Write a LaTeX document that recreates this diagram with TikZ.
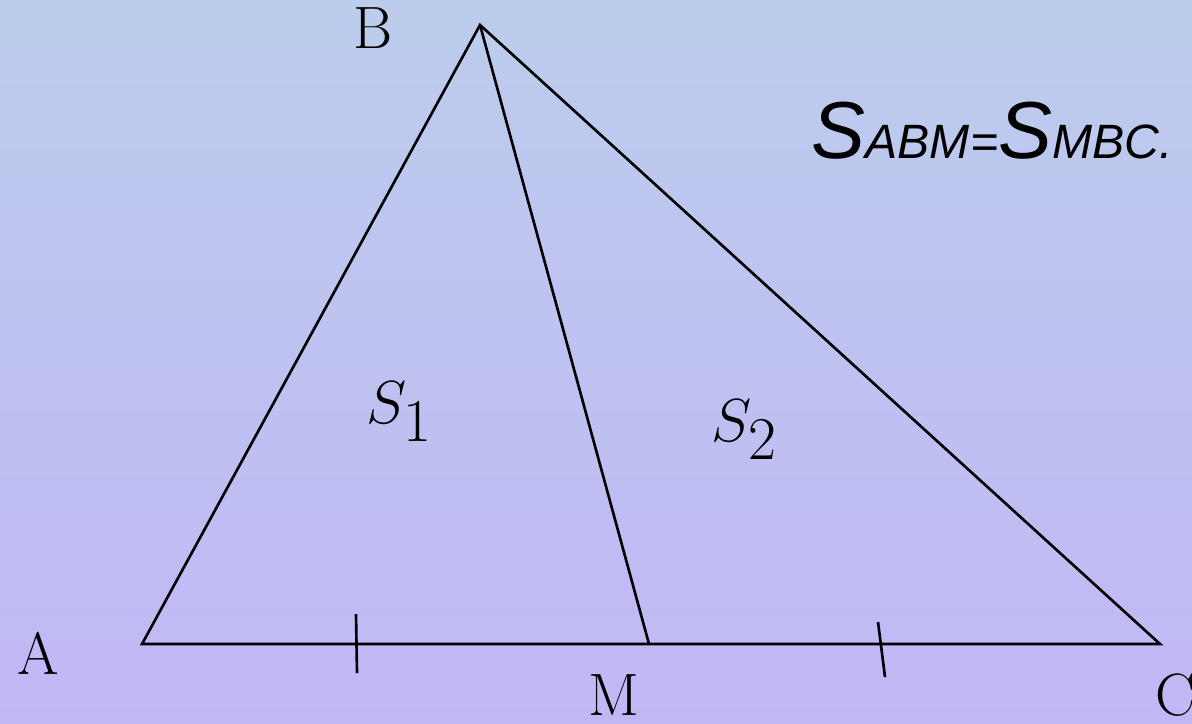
\documentclass[tikz,border=0pt]{standalone}
\usepackage{fontspec}
\newfontfamily\formulafont{Liberation Sans}
\usepackage{tikz}
\usetikzlibrary{positioning, calc}

\definecolor{bgtop}{RGB}{188,205,236}
\definecolor{bgbot}{RGB}{193,183,246}

\begin{document}
\begin{tikzpicture}[
  x=0.01cm, y=-0.01cm,
  side/.style={draw=black, line width=0.75pt, line cap=round},
  tick/.style={draw=black, line width=0.75pt},
  vlabel/.style={font=\fontsize{17}{20}\selectfont, inner sep=0pt},
  area/.style={font=\fontsize{18}{20}\selectfont, inner sep=0pt},
]
  % Background
  \shade[top color=bgtop, bottom color=bgbot] (0, 0) rectangle (1192, 723);
  \useasboundingbox (0, 0) rectangle (1192, 723);

  % Vertices
  \coordinate (A) at (142, 644);
  \coordinate (B) at (480, 25);
  \coordinate (C) at (1160, 644);
  \coordinate (M) at (649, 644);

  % Sides and median
  \draw[side] (A) -- (B) -- (C) -- cycle;
  \draw[side] (B) -- (M);

  % Equal segment marks
  \coordinate (t1a) at (356, 614);
  \coordinate (t1b) at (357, 673);
  \coordinate (t2a) at (878, 622);
  \coordinate (t2b) at (885, 677);
  \draw[tick] (t1a) -- (t1b);
  \draw[tick] (t2a) -- (t2b);

  % Vertex labels
  \node[vlabel] (lB) at (373, 28)  {B};
  \node[vlabel] (lA) at (38, 653)  {A};
  \node[vlabel] (lM) at (614, 695) {M};
  \node[vlabel] (lC) at (1175, 695) {C};

  % Areas
  \node[area] (s1) at (400, 412) {$S_{\textstyle 1}$};
  \node[area] (s2) at (745, 430) {$S_{\textstyle 2}$};

  % Formula
  \node[anchor=base west, inner sep=0pt] (eq) at (811, 158)
    {\formulafont\itshape{\fontsize{23}{26}\selectfont S}{\fontsize{13.7}{15}\selectfont ABM=}{\fontsize{23}{26}\selectfont S}{\fontsize{13.7}{15}\selectfont MBC.}};
\end{tikzpicture}
\end{document}
